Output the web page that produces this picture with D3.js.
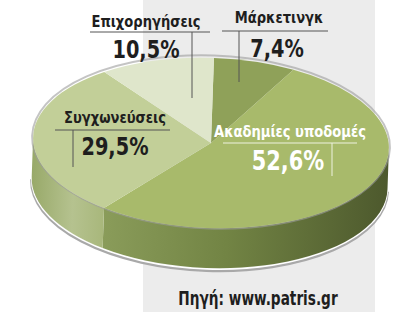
<!DOCTYPE html>
<html>
<head>
<meta charset="utf-8">
<script src="https://cdn.jsdelivr.net/npm/d3@7"></script>
<style>
  body { margin: 0; background: #fff; }
  svg text { font-family: "Liberation Sans Narrow", "DejaVu Sans Condensed", "Roboto Condensed", sans-serif; font-weight: bold; }
</style>
</head>
<body>
<svg id="chart" width="400" height="312" viewBox="0 0 400 312"></svg>
<script>
// data, clockwise from the top
const categories = ["Μάρκετινγκ", "Ακαδημίες υποδομές", "Συγχωνεύσεις", "Επιχορηγήσεις"]
const values = [7.4, 52.6, 29.5, 10.5]
const valueLabels = ["7,4%", "52,6%", "29,5%", "10,5%"]
const sourceText = "Πηγή: www.patris.gr"

// colours of the top faces
const topColors = ["#8fa159", "#a8ba6b", "#c2cf98", "#dfe6cb"]

// where each label block sits (name, value, leader lines)
const labelLayout = [
    {nx: 279, ny: 23, vx: 277, vy: 57, hx1: 222, hx2: 328, hy: 31, vlx: 239, vly2: 82, fill: "#1e1e1e", line: "#555"},
    {nx: 290, ny: 137, vx: 288, vy: 170, hx1: 223, hx2: 357, hy: 143, vlx: 332, vly2: 176, fill: "#ffffff", line: "#eef2e0"},
    {nx: 115, ny: 123, vx: 115, vy: 155, hx1: 55, hx2: 170, hy: 130, vlx: 73, vly2: 167, fill: "#1e1e1e", line: "#555"},
    {nx: 146, ny: 27, vx: 146, vy: 58, hx1: 90, hx2: 210, hy: 32, vlx: 192, vly2: 98, fill: "#1e1e1e", line: "#555"}
]

const svg = d3.select("#chart")

// grey panel behind
svg.append("rect").attr("x", 143).attr("y", 0).attr("width", 232).attr("height", 312).attr("fill", "#ececec")

const cx = 211, cy = 143, rx = 178, ry = 85, depth = 40

function pt(a, dy) {
    return [cx + rx * Math.sin(a), cy - ry * Math.cos(a) + (dy || 0)]
}

const arcs = d3.pie().sort(null).value(d => d)(values)

const defs = svg.append("defs")
const sideGrads = [
    null,
    [[100, "#8b9d5b"], [230, "#728444"], [389, "#4d592d"]],
    [[33, "#98a969"], [75, "#b5c28f"], [107, "#a8b77b"]],
    null
]
sideGrads.forEach((g, i) => {
    if (!g) return
    const lg = defs.append("linearGradient").attr("id", "side" + i)
        .attr("gradientUnits", "userSpaceOnUse")
        .attr("x1", g[0][0]).attr("x2", g[g.length - 1][0]).attr("y1", 0).attr("y2", 0)
    g.forEach(s => lg.append("stop")
        .attr("offset", (s[0] - g[0][0]) / (g[g.length - 1][0] - g[0][0]))
        .attr("stop-color", s[1]))
})

const pie = svg.append("g").attr("transform", `rotate(2, ${cx}, ${cy})`)

// shadow rim under the side
const rimPath = (dy) => {
    const p0 = pt(Math.PI / 2, dy), p1 = pt(3 * Math.PI / 2, dy)
    return `M${p0}A${rx},${ry} 0 0 1 ${p1}`
}
pie.append("path").attr("d", rimPath(depth + 2.5)).attr("fill", "none").attr("stroke", "#a9a9a9").attr("stroke-width", 3)
pie.append("path").attr("d", rimPath(depth + 1)).attr("fill", "none").attr("stroke", "#ffffff").attr("stroke-width", 1.5)

// side walls
arcs.forEach((d, i) => {
    const s0 = Math.max(d.startAngle, Math.PI / 2)
    const s1 = Math.min(d.endAngle, 3 * Math.PI / 2)
    if (s1 <= s0) return
    const path = `M${pt(s0)}A${rx},${ry} 0 0 1 ${pt(s1)}L${pt(s1, depth)}A${rx},${ry} 0 0 0 ${pt(s0, depth)}Z`
    pie.append("path").attr("d", path).attr("fill", `url(#side${i})`)
})

// soft grey edge around the top
pie.append("ellipse").attr("cx", cx).attr("cy", cy - 1).attr("rx", rx + 1).attr("ry", ry + 1.5)
    .attr("fill", "none").attr("stroke", "#9c9c9c").attr("stroke-width", 2).attr("opacity", 0.6)

// top faces
pie.selectAll(".top")
    .data(arcs)
    .enter()
    .append("path")
    .attr("class", "top")
    .attr("d", d => {
        const large = d.endAngle - d.startAngle > Math.PI ? 1 : 0
        return `M${cx},${cy}L${pt(d.startAngle)}A${rx},${ry} 0 ${large} 1 ${pt(d.endAngle)}Z`
    })
    .attr("fill", (d, i) => topColors[i])

// condensed text helper
function label(g, x, y, size, sx, fill, txt) {
    g.append("text").attr("transform", `translate(${x},${y}) scale(${sx},1)`)
        .attr("text-anchor", "middle").attr("font-size", size).attr("fill", fill).text(txt)
}

// labels
const lab = svg.append("g")
labelLayout.forEach((l, i) => {
    lab.append("line").attr("x1", l.hx1).attr("x2", l.hx2).attr("y1", l.hy).attr("y2", l.hy)
        .attr("stroke", l.line).attr("stroke-width", 1)
    lab.append("line").attr("x1", l.vlx).attr("x2", l.vlx).attr("y1", l.hy).attr("y2", l.vly2)
        .attr("stroke", l.line).attr("stroke-width", 1)
    label(lab, l.nx, l.ny, 16, 0.91, l.fill, categories[i])
    label(lab, l.vx, l.vy, i == 1 ? 27 : 25, 0.86, l.fill, valueLabels[i])
})

label(svg, 258, 305, 19, 0.8, "#1e1e1e", sourceText)
</script>
</body>
</html>
